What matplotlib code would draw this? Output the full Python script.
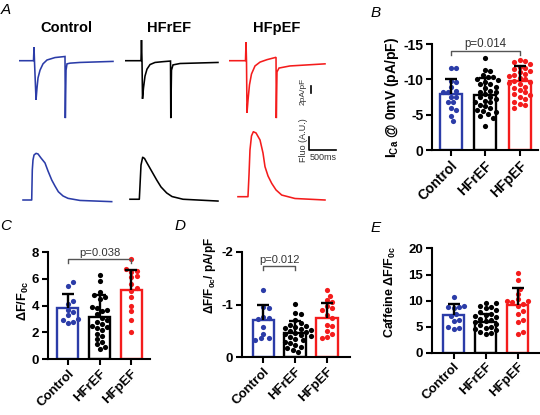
import numpy as np
import matplotlib
matplotlib.use('Agg')
import matplotlib.pyplot as plt

plt.rcParams['font.family'] = ['Liberation Sans', 'DejaVu Sans']
plt.rcParams['mathtext.fontset'] = 'custom'
plt.rcParams['mathtext.default'] = 'regular'
plt.rcParams['axes.unicode_minus'] = False

groups = ['Control', 'HFrEF', 'HFpEF']
colors = ['#2b3ca8', '#000000', '#f41c1c']

# ---------------- Panel A: representative traces ----------------
# current traces: time (ms), current (pA/pF)
ctrl_I_t = [0, 268, 278, 287, 315, 333, 352, 389, 444, 518, 666, 851, 857, 870, 888, 944, 1128, 1739]
ctrl_I = [0, 0, 3.9, -0.4, -11.2, -7.8, -4.9, -2.7, -0.9, 0.2, 0.9, 1.2, -16.4, -2.7, -0.9, -0.7, -0.5, -0.2]
hfr_I_t = [0, 296, 305, 315, 324, 342, 370, 407, 463, 555, 685, 842, 847, 860, 888, 1018, 1720]
hfr_I = [0, 0, 5.9, -0.4, -10.9, -7.8, -4.4, -2.4, -1.1, -0.5, -0.3, -0.1, -16.4, -2.7, -1.2, -0.8, -0.5]
hfp_I_t = [0, 305, 315, 324, 333, 352, 379, 416, 481, 574, 703, 870, 875, 888, 925, 1128, 1776]
hfp_I = [0, 0, 5.3, -0.4, -14.9, -11.2, -6.9, -3.8, -1.5, -0.4, 0.3, 0.97, -16.4, -3.2, -2.1, -1.5, -0.9]
# fluorescence traces: time (ms), fluorescence (A.U.)
ctrl_F_t = [74, 235, 246, 259, 278, 315, 352, 407, 481, 537, 606, 666, 728, 814, 907, 1129, 1715]
ctrl_F = [0, 0, 2.0, 2.67, 3.0, 3.11, 3.07, 2.8, 2.47, 1.93, 1.33, 0.93, 0.55, 0.27, 0.11, -0.03, -0.11]
hfr_F_t = [92, 265, 278, 296, 327, 361, 407, 481, 587, 666, 771, 870, 1073, 1720]
hfr_F = [0.05, 0.05, 1.0, 2.33, 2.85, 2.77, 2.47, 2.0, 1.33, 0.87, 0.47, 0.23, 0.05, -0.07]
hfp_F_t = [166, 351, 370, 388, 416, 450, 500, 574, 629, 666, 722, 790, 870, 975, 1221, 1776]
hfp_F = [0.22, 0.22, 1.67, 3.33, 4.27, 4.55, 4.47, 4.0, 3.13, 2.22, 1.6, 1.11, 0.67, 0.33, 0.1, 0.0]

# ---------------- Panel B: ICa @ 0 mV ----------------
B_means = [-7.95, -7.85, -9.73]
B_sd_top = [-10.07, -10.2, -11.95]
B_ctrl = [-11.6, -11.6, -9.8, -9.6, -9.0, -8.4, -8.3, -8.2, -7.6, -7.5, -6.9, -6.8, -6.0, -5.7, -4.9, -4.2]
B_hfr = [-13.0, -11.3, -11.2, -10.6, -10.4, -10.3, -10.0, -9.9, -9.6, -9.4, -9.3, -9.0, -8.8, -8.4,
         -8.3, -8.2, -7.9, -7.6, -7.5, -7.3, -7.0, -6.9, -6.8, -6.4, -6.2, -6.0, -5.7, -5.5, -5.4,
         -5.2, -4.8, -4.6, -3.5]
B_hfp = [-12.8, -12.6, -12.4, -12.2, -11.8, -11.6, -11.5, -11.2, -11.0, -10.8, -10.6, -10.5, -10.2,
         -10.0, -9.8, -9.7, -9.5, -9.3, -9.0, -8.8, -8.5, -8.2, -8.0, -7.8, -7.5, -7.2, -6.9, -6.6,
         -6.4, -6.0]

# ---------------- Panel C: dF/F0c ----------------
C_means = [3.83, 3.16, 5.15]
C_sd_top = [4.85, 4.78, 6.64]
C_ctrl = [5.75, 5.45, 4.3, 4.1, 3.7, 3.5, 3.3, 3.0, 2.9, 2.75, 2.7]
C_hfr = [6.3, 5.8, 5.0, 4.8, 4.6, 4.5, 3.9, 3.8, 3.7, 3.6, 3.4, 3.1, 2.9, 2.8, 2.6, 2.5, 2.4,
         2.3, 2.2, 1.9, 1.7, 1.5, 1.3, 1.1, 0.9, 0.75]
C_hfp = [7.5, 6.7, 6.6, 6.5, 6.2, 6.1, 5.6, 5.3, 5.1, 4.6, 4.0, 3.6, 2.9, 2.0]

# ---------------- Panel D: dF/F0c per pA/pF ----------------
D_means = [-0.70, -0.46, -0.75]
D_sd_top = [-0.99, -0.69, -1.04]
D_ctrl = [-1.27, -0.95, -0.93, -0.76, -0.74, -0.72, -0.58, -0.45, -0.37, -0.36, -0.33]
D_hfr = [-1.02, -0.85, -0.82, -0.70, -0.66, -0.62, -0.60, -0.58, -0.56, -0.54, -0.52, -0.50,
         -0.48, -0.46, -0.44, -0.42, -0.40, -0.38, -0.35, -0.32, -0.30, -0.27, -0.24, -0.20,
         -0.17, -0.14, -0.10]
D_hfp = [-1.27, -1.17, -1.08, -1.05, -0.97, -0.93, -0.90, -0.80, -0.75, -0.62, -0.60, -0.50,
         -0.45, -0.38, -0.36]

# ---------------- Panel E: caffeine dF/F0c ----------------
E_means = [7.2, 5.9, 9.13]
E_sd_top = [9.27, 7.5, 12.5]
E_ctrl = [10.6, 9.0, 8.8, 8.7, 8.5, 7.5, 7.0, 6.2, 6.1, 5.0, 4.8, 4.5]
E_hfr = [9.6, 9.5, 8.9, 8.7, 8.5, 8.2, 7.8, 7.5, 7.2, 7.0, 6.8, 6.5, 6.3, 6.0, 5.8, 5.5, 5.3,
         5.0, 4.8, 4.6, 4.3, 4.0, 3.8, 3.6]
E_hfp = [15.2, 14.0, 12.3, 11.3, 10.2, 10.0, 9.9, 9.7, 9.4, 9.0, 8.0, 7.5, 6.3, 5.9, 3.9, 3.6]

# ================= figure =================
W, H = 540, 415
fig = plt.figure(figsize=(W / 100, H / 100), dpi=100)


def px_axes(l, t, r, b):
    return fig.add_axes([l / W, 1 - b / H, (r - l) / W, (b - t) / H])


def ftext(x, y, s, **kw):
    fig.text(x / W, 1 - y / H, s, **kw)


# ---- Panel A layout
MS_PER_PX = 18.5
I_PX = 3.5
F_PX = 15.0
col_x0 = [19, 125, 229]
I_top, I_base, I_bot = 30, 60.7, 125
F_top, F_base, F_bot = 125, 200, 212
I_traces = [(ctrl_I_t, ctrl_I), (hfr_I_t, hfr_I), (hfp_I_t, hfp_I)]
F_traces = [(ctrl_F_t, ctrl_F), (hfr_F_t, hfr_F), (hfp_F_t, hfp_F)]
title_x = [66, 169, 277]

for k in range(3):
    x0 = col_x0[k]
    axI = px_axes(x0, I_top, x0 + 120, I_bot)
    axI.set_xlim(0, 120 * MS_PER_PX)
    axI.set_ylim(-(I_bot - I_base) / I_PX, (I_base - I_top) / I_PX)
    axI.plot(I_traces[k][0], I_traces[k][1], color=colors[k], lw=1.15, solid_joinstyle='miter')
    axI.axis('off')
    axF = px_axes(x0, F_top, x0 + 120, F_bot)
    axF.set_xlim(0, 120 * MS_PER_PX)
    axF.set_ylim(-(F_bot - F_base) / F_PX, (F_base - F_top) / F_PX)
    axF.plot(F_traces[k][0], F_traces[k][1], color=colors[k], lw=1.15)
    axF.axis('off')
    ftext(title_x[k], 28, groups[k], fontsize=10.5, fontweight='bold', ha='center', va='center')
    if k == 2:
        # current scale bar: 2 pA/pF
        tb = (311 - x0) * MS_PER_PX
        axI.plot([tb, tb], [-7.2, -9.2], color='black', lw=1.2, clip_on=False)
        axI.text((303 - x0) * MS_PER_PX, -8.7, '2pA/pF', rotation=90, fontsize=6,
                 ha='center', va='center', color='#333333')
        # fluorescence / time scale bar
        tf = (309.3 - x0) * MS_PER_PX
        axF.plot([tf, tf, tf + 500], [4.2, 3.33, 3.33], color='black', lw=1.2, clip_on=False)
        axF.text(tf + 250, 2.85, '500ms', fontsize=6.5, ha='center', va='center', color='#333333')
        axF.text((303 - x0) * MS_PER_PX, 4.0, 'Fluo (A.U.)', rotation=90, fontsize=6.5,
                 ha='center', va='center', color='#333333')


# ---- bar panels
def swarm_offsets(vals, ppu_y, diam):
    vals = np.asarray(vals, float)
    order = np.argsort(vals)
    placed = []
    offs = np.zeros(len(vals))
    cands = [0.0]
    for k in range(1, 30):
        cands += [k * diam * 0.5, -k * diam * 0.5]
    for i in order:
        y = vals[i] * ppu_y
        for c in cands:
            if all((c - px) ** 2 + (y - py) ** 2 >= diam ** 2 for px, py in placed):
                offs[i] = c
                placed.append((c, y))
                break
    return offs


def bar_panel(rect, xlim, ylim, yticks, means, sd_top, pts, fs, bar_w, bracket=None):
    l, t, r, b = rect
    ax = px_axes(l, t, r, b)
    ax.set_xlim(*xlim)
    ax.set_ylim(*ylim)
    ppu_x = (r - l) / (xlim[1] - xlim[0])
    ppu_y = (b - t) / abs(ylim[1] - ylim[0])
    x = np.arange(3)
    ax.bar(x, means, bar_w, facecolor='white', edgecolor=colors, linewidth=1.7, zorder=1)
    for i in range(3):
        offs = swarm_offsets(pts[i], ppu_y, 5.3) / ppu_x
        ax.scatter(x[i] + offs, pts[i], s=14, color=colors[i], linewidths=0, zorder=2, clip_on=False)
    capw = 6 / ppu_x
    ax.vlines(x, means, sd_top, color='black', lw=1.7, zorder=3)
    ax.hlines(sd_top, x - capw, x + capw, color='black', lw=1.7, zorder=3)
    for s in ['top', 'right']:
        ax.spines[s].set_visible(False)
    for s in ['left', 'bottom']:
        ax.spines[s].set_linewidth(1.5)
    ax.set_yticks(yticks)
    ax.set_yticklabels([str(v) for v in yticks], fontsize=fs, fontweight='bold')
    ax.set_xticks(x)
    ax.set_xticklabels(groups, rotation=45, ha='right', va='top', rotation_mode='anchor',
                       fontsize=fs, fontweight='bold')
    ax.tick_params(direction='out', length=4, width=1.5, pad=2)
    if bracket is not None:
        i0, i1, yb, tick, label, bfs = bracket
        ax.plot([i0, i0, i1, i1], [yb - tick, yb, yb, yb - tick], color='#555555', lw=1, clip_on=False)
        ax.annotate(label, ((i0 + i1) / 2, yb), xytext=(0, 1), textcoords='offset points',
                    ha='center', va='bottom', fontsize=bfs, color='#333333', annotation_clip=False)
    return ax


# B
bar_panel((432, 44, 538, 150.5), (-0.54, 2.53), (0, -15), [0, -5, -10, -15],
          B_means, B_sd_top, [B_ctrl, B_hfr, B_hfp], 10, 0.63,
          bracket=(0, 2, -14.0, -0.5, 'p=0.014', 8.3))
# C
bar_panel((47.5, 252, 150, 359), (-0.64, 2.59), (0, 8), [0, 2, 4, 6, 8],
          C_means, C_sd_top, [C_ctrl, C_hfr, C_hfp], 9.5, 0.66,
          bracket=(0, 2, 7.46, 0.25, 'p=0.038', 8.1))
# D
bar_panel((241.7, 252, 350, 357.3), (-0.68, 2.72), (0, -2), [0, -1, -2],
          D_means, D_sd_top, [D_ctrl, D_hfr, D_hfp], 9.5, 0.675,
          bracket=(0, 1, -1.73, -0.07, 'p=0.012', 8.0))
# E
bar_panel((431.7, 248.5, 541, 352.5), (-0.69, 2.73), (0, 20), [0, 5, 10, 15, 20],
          E_means, E_sd_top, [E_ctrl, E_hfr, E_hfp], 9.5, 0.66)

# y labels
ftext(392, 97, r'I$_{Ca}$ @ 0mV (pA/pF)', rotation=90, fontsize=10, fontweight='bold',
      ha='center', va='center')
ftext(23, 301, r'ΔF/F$_{0c}$', rotation=90, fontsize=9.2, fontweight='bold', ha='center', va='center')
ftext(210, 275, r'ΔF/F$_{0c}$/ pA/pF', rotation=90, fontsize=8.5, fontweight='bold',
      ha='center', va='center')
ftext(390, 292, r'Caffeine ΔF/F$_{0c}$', rotation=90, fontsize=9, fontweight='bold',
      ha='center', va='center')

# panel letters
for lab, (px, py) in zip('ABCDE', [(6, 10), (376, 13), (6, 226), (180, 226), (376, 228)]):
    ftext(px, py, lab, fontsize=11, fontstyle='italic', ha='center', va='center')

fig.savefig('out.png', dpi=100)
